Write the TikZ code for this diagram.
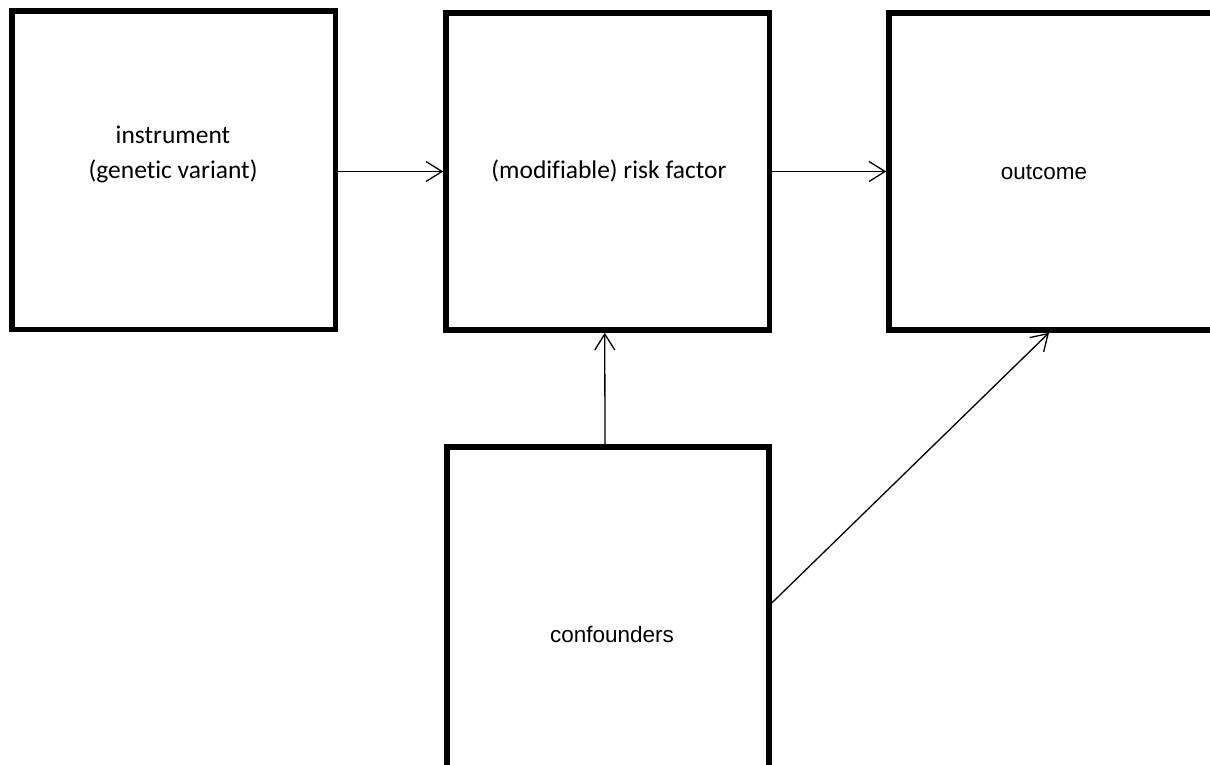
\documentclass[tikz,border=0pt]{standalone}
\usepackage{fontspec}
\setmainfont[Ligatures=NoCommon]{Carlito}
\newfontfamily\arialfont{Liberation Sans}
\usetikzlibrary{arrows.meta}
\tikzset{
  box/.style={draw=black, line width=5.5pt, rectangle, inner sep=0pt, fill=white},
  arr/.style={line width=1.3pt, -{Straight Barb[length=16pt,width=20pt,line width=1.3pt]}},
  calib/.style={font=\fontsize{25.5}{30}\selectfont, inner sep=0pt},
  arial/.style={font=\arialfont\fontsize{22.5}{27}\selectfont, inner sep=0pt}
}
\begin{document}
\begin{tikzpicture}[x=1pt,y=-1pt]
\useasboundingbox (0,0) rectangle (1210,764);
\clip (0,0) rectangle (1210,764);
\fill[white] (0,0) rectangle (1210,764);
\node[box, minimum width=323.5pt, minimum height=318.5pt] (box1) at (173.75,170.25) {};
\node[box, minimum width=323.5pt, minimum height=317pt] (box2) at (607.75,171.5) {};
\node[box, minimum width=340pt, minimum height=317pt] (box3) at (1059,171.5) {};
\node[box, minimum width=322pt, minimum height=340pt] (box4) at (608,617) {};
\node[calib] (t1a) at (173,135) {instrument};
\node[calib] (t1b) at (173,171) {(genetic variant)};
\node[calib] (t2) at (609,171) {(modifiable) risk factor};
\node[arial] (t3) at (1044,172) {outcome};
\node[arial] (t4) at (612,634) {confounders};
\coordinate (r) at (0,171.5);
\coordinate (s) at (0,603);
\draw[arr] (box1.east |- r) -- (box2.west |- r);
\draw[arr] (box2.east |- r) -- (box3.west |- r);
\draw[arr] ([xshift=-3pt]box4.north) -- ([xshift=-3pt]box2.south);
\draw[arr] (box4.east |- s) -- ([xshift=-10pt]box3.south);
\end{tikzpicture}
\end{document}
